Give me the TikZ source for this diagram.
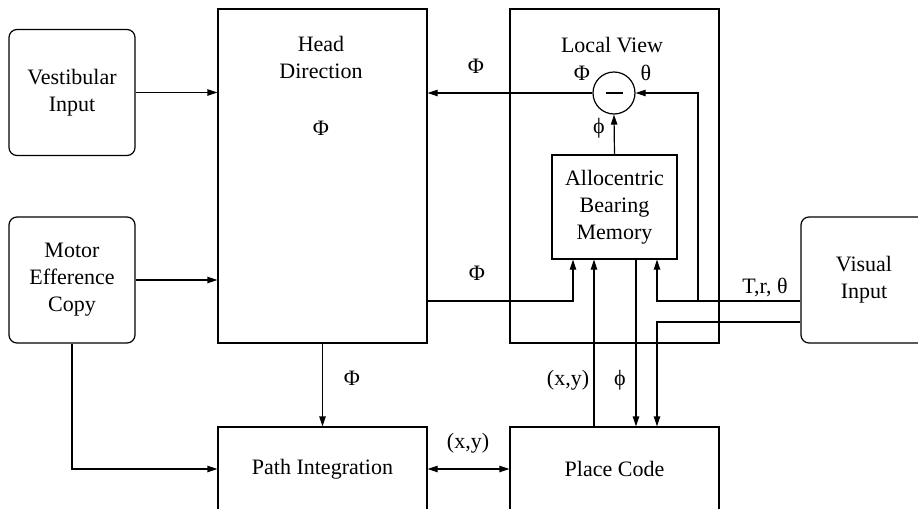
\documentclass[tikz,border=0pt]{standalone}
\usepackage{fontspec}
\setmainfont{Liberation Serif}
\usetikzlibrary{arrows.meta}
\begin{document}
\begin{tikzpicture}[x=0.5pt,y=-0.5pt,line width=0.6pt,
  >={Triangle[length=5pt,width=3.2pt]},
  every node/.style={font=\fontsize{11}{13.5}\selectfont,align=center,inner sep=0pt},
  block/.style={draw,minimum width=#1},
  inbox/.style={draw,rounded corners=4pt,minimum width=63pt,minimum height=63pt}]
\useasboundingbox (0,0) rectangle (918,509);
\clip (0,0) rectangle (918,509);
\node [inbox] (vest) at (72,92.5) {Vestibular\\Input};
\node [inbox] (motor) at (72,280) {Motor\\Efference\\Copy};
\node [inbox] (vis) at (864,280) {Visual\\Input};
\node [block=104.5pt,minimum height=167pt] (hd) at (322.5,176) {};
\node (hdname) at (321,57) {Head\\Direction};
\node (hdphi) at (321,128) {Φ};
\node [block=104.5pt,minimum height=167pt] (lv) at (614.5,176) {};
\node (lvname) at (612,45) {Local View};
\node [draw,circle,minimum size=21pt] (minus) at (614,93) {};
\draw [line width=0.7pt] (minus.center) ++(-8.5,0) -- ++(17,0);
\node [block=62.5pt,minimum height=52pt] (abm) at (614.5,207) {Allocentric\\Bearing\\Memory};
\node [block=104.5pt,minimum height=42pt] (pi) at (322.5,469) {Path Integration};
\node [block=104.5pt,minimum height=42pt] (pc) at (614.5,469) {Place Code};
\coordinate (rowA) at (0,301);
\coordinate (rowB) at (0,322);
\coordinate (colA) at (573,0);
\coordinate (colB) at (594,0);
\coordinate (colC) at (636,0);
\coordinate (colD) at (657,0);
\coordinate (colE) at (698,0);
\draw [->] (vest) -- (vest -| hd.west);
\draw [->] (motor) -- (motor -| hd.west);
\draw [->] (motor.south) |- (pi.west);
\draw [->] (hd.south) -- (pi.north);
\draw [<->] (pi) -- (pc);
\draw [->] (minus) -- (minus -| hd.east);
\draw [->] (abm.north) -- (minus.south);
\draw [->] (hd.east |- rowA) -| (colA |- abm.south);
\draw [->] (vis.west |- rowA) -| (colD |- abm.south);
\draw [->] (colE |- rowA) |- (minus.east);
\draw [->] (vis.west |- rowB) -| (colD |- pc.north);
\draw [->] (colC |- abm.south) -- (colC |- pc.north);
\draw [->] (colB |- pc.north) -- (colB |- abm.south);
\node (l1) at (476,66) {Φ};
\node (l2) at (582,73) {Φ};
\node (l3) at (646,73) {θ};
\node (l4) at (599,128) {ϕ};
\node (l5) at (477,273) {Φ};
\node (l6) at (765,287) {T,r, θ};
\node (l7) at (352,378) {Φ};
\node (l8) at (568,380) {(x,y)};
\node (l9) at (620,380) {ϕ};
\node (l10) at (468,443) {(x,y)};
\end{tikzpicture}
\end{document}
